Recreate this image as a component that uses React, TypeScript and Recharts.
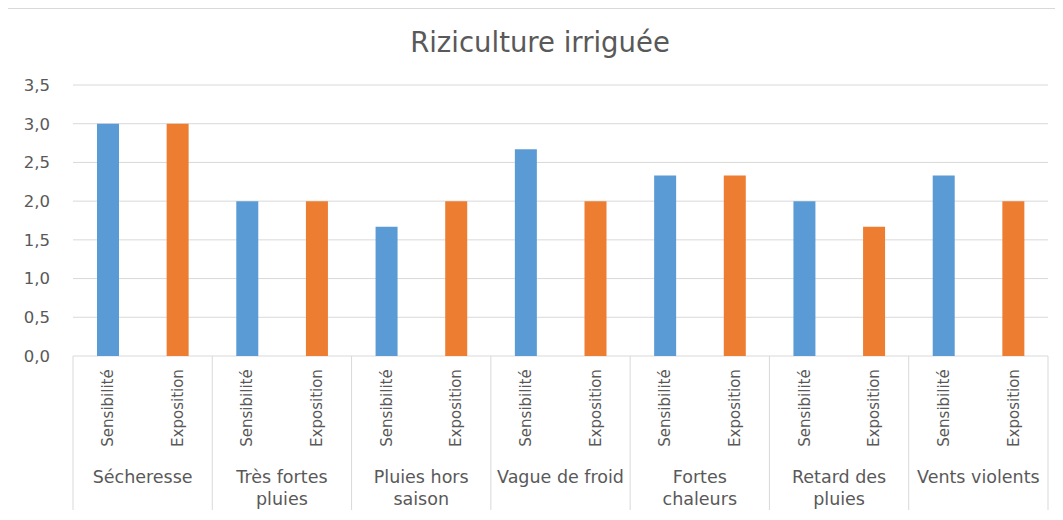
import React from 'react';
import { BarChart, Bar, Cell, XAxis, YAxis, CartesianGrid } from 'recharts';

const categories = [
  'Sécheresse',
  'Très fortes\npluies',
  'Pluies hors\nsaison',
  'Vague de froid',
  'Fortes\nchaleurs',
  'Retard des\npluies',
  'Vents violents',
];
const seriesNames = ['Sensibilité', 'Exposition'];
const sensibilite = [3, 2, 1.67, 2.67, 2.33, 2, 2.33];
const exposition = [3, 2, 2, 2, 2.33, 1.67, 2];
const yTicks = [0, 0.5, 1, 1.5, 2, 2.5, 3, 3.5];

const COLORS = ['#5B9BD5', '#ED7D31'];
const TEXT = '#595959';
const GRID = '#D9D9D9';
const FONT = '"DejaVu Sans", sans-serif';
const SUB_H = 100;
const GROUP_H = 64;

const rows = categories.flatMap((group, i) => [
  { key: `${group}|${seriesNames[0]}`, group, sub: seriesNames[0], value: sensibilite[i], series: 0 },
  { key: `${group}|${seriesNames[1]}`, group, sub: seriesNames[1], value: exposition[i], series: 1 },
]);

const SubTick = (props: any) => {
  const { x, y, payload } = props;
  const label = String(payload.value).split('|')[1];
  const cy = y + 52;
  return (
    <text
      x={x}
      y={cy}
      transform={`rotate(-90, ${x}, ${cy})`}
      textAnchor="middle"
      dy="0.36em"
      fill={TEXT}
      fontSize={15}
      fontFamily={FONT}
    >
      {label}
    </text>
  );
};

const GroupTick = (props: any) => {
  const { x, y, payload, index, width } = props;
  const half = payload.offset || width / categories.length / 2;
  const lines = String(payload.value).split('\n');
  const top = y - SUB_H;
  const bottom = y + 54;
  return (
    <g>
      <line x1={x - half} x2={x - half} y1={top} y2={bottom} stroke={GRID} strokeWidth={1} />
      {index === categories.length - 1 && (
        <line x1={x + half} x2={x + half} y1={top} y2={bottom} stroke={GRID} strokeWidth={1} />
      )}
      <text x={x} y={y + 27} textAnchor="middle" fill={TEXT} fontSize={17.5} fontFamily={FONT}>
        {lines.map((l, i) => (
          <tspan key={i} x={x} dy={i === 0 ? 0 : 22}>
            {l}
          </tspan>
        ))}
      </text>
    </g>
  );
};

const App: React.FC = () => {
  return (
    <div style={{ position: 'relative', width: 1063, height: 520, overflow: 'hidden', background: '#fff', margin: -8 }}>
      <div
        style={{
          position: 'absolute',
          left: 6,
          top: 8,
          width: 1200,
          height: 700,
          border: `1px solid ${GRID}`,
        }}
      />
      <div
        style={{
          position: 'absolute',
          left: 0,
          width: 1080,
          top: 29,
          textAlign: 'center',
          fontFamily: FONT,
          fontSize: 27.5,
          lineHeight: '27px',
          color: TEXT,
        }}
      >
        Riziculture irriguée
      </div>
      <div style={{ position: 'absolute', left: 0, top: 0 }}>
        <BarChart
          width={1063}
          height={520}
          data={rows}
          margin={{ top: 85, right: 15, bottom: 0, left: 13 }}
          barSize={22}
        >
          <CartesianGrid vertical={false} stroke={GRID} />
          <YAxis
            domain={[0, 3.5]}
            ticks={yTicks}
            width={60}
            axisLine={false}
            tickLine={false}
            tickSize={0}
            tickMargin={23}
            tick={{ fill: TEXT, fontSize: 16.5, fontFamily: FONT }}
            tickFormatter={(v: number) => v.toFixed(1).replace('.', ',')}
          />
          <XAxis
            dataKey="key"
            interval={0}
            height={SUB_H}
            axisLine={false}
            tickLine={false}
            tickSize={0}
            tickMargin={0}
            tick={<SubTick />}
          />
          <XAxis
            xAxisId="grp"
            dataKey="group"
            allowDuplicatedCategory={false}
            interval={0}
            height={GROUP_H}
            axisLine={false}
            tickLine={false}
            tickSize={0}
            tickMargin={0}
            tick={<GroupTick />}
          />
          <Bar dataKey="value" isAnimationActive={false}>
            {rows.map((r, i) => (
              <Cell key={`cell-${i}`} fill={COLORS[r.series]} />
            ))}
          </Bar>
        </BarChart>
      </div>
    </div>
  );
};

export default App;
